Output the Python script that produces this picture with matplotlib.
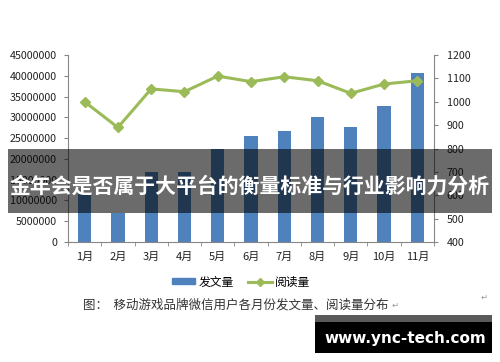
import numpy as np
import matplotlib
matplotlib.use("Agg")
import matplotlib.pyplot as plt
from matplotlib.patches import Rectangle
from matplotlib.lines import Line2D

plt.rcParams['font.family'] = ['Noto Sans CJK SC', 'DejaVu Sans']

months = ["1月", "2月", "3月", "4月", "5月", "6月", "7月", "8月", "9月", "10月", "11月"]
posts = [11500000, 7000000, 16800000, 16800000, 22300000, 25600000, 26800000,
         30000000, 27600000, 32800000, 40600000]
reads = [1000, 890, 1055, 1043, 1110, 1086, 1107, 1090, 1036, 1076, 1090]
left_ticks = list(range(0, 45000001, 5000000))
right_ticks = list(range(400, 1201, 100))

title = "金年会是否属于大平台的衡量标准与行业影响力分析"
caption = "图：  移动游戏品牌微信用户各月份发文量、阅读量分布"
watermark = "www.ync-tech.com"

blue = "#4F81BD"
green = "#9BBB59"
spine = "#868686"

fig = plt.figure(figsize=(5, 3.62), dpi=100)
ax = fig.add_axes([0.136, 0.3315, 0.732, 0.5165])
ax2 = ax.twinx()

x = np.arange(len(months))
ax.bar(x, posts, width=0.4, color=blue, zorder=2)
ax2.plot(x, reads, color=green, lw=2.2, marker="D", ms=5, zorder=3)

ax.set_xlim(-0.5, len(months) - 0.5)
ax.set_ylim(0, 45000000)
ax2.set_ylim(400, 1200)
ax.set_yticks(left_ticks)
ax.set_yticklabels([str(v) for v in left_ticks])
ax2.set_yticks(right_ticks)
ax2.set_yticklabels([str(v) for v in right_ticks])
ax.set_xticks(x)
ax.set_xticklabels(months)
ax.set_xticks(np.arange(-0.5, len(months)), minor=True)

for a in (ax, ax2):
    for s in a.spines.values():
        s.set_color(spine)
        s.set_linewidth(0.8)
    a.spines["top"].set_visible(False)
ax.spines["right"].set_visible(False)
ax2.spines["left"].set_visible(False)
ax2.spines["bottom"].set_visible(False)

ax.tick_params(axis="y", length=3, color=spine, labelsize=7.7, pad=5, labelcolor="#222222")
ax2.tick_params(axis="y", length=3, color=spine, labelsize=7.7, pad=6, labelcolor="#222222")
ax.tick_params(axis="x", which="major", length=0, labelsize=8, pad=7, labelcolor="#222222")
ax.tick_params(axis="x", which="minor", length=3, color=spine)

handles = [Rectangle((0, 0), 1, 1, color=blue),
           Line2D([], [], color=green, lw=2.2, marker="D", ms=4)]
fig.legend(handles, ["发文量", "阅读量"], loc="center", bbox_to_anchor=(0.482, 0.221),
           ncol=2, frameon=False, fontsize=8.5, handlelength=2.0, handleheight=0.45,
           columnspacing=1.2, handletextpad=0.3)

fig.text(0.166, 0.157, caption, fontsize=9, color="#333333", va="center")
fig.text(0.784, 0.157, "↵", fontsize=6, color="#999999", va="center")
fig.text(0.962, 0.18, "↵", fontsize=6, color="#999999", va="center")

# dark banner over the chart
fig.patches.append(Rectangle((0.016, 1 - 213 / 362), 0.968, 64 / 362, transform=fig.transFigure,
                             facecolor="black", alpha=0.58, edgecolor="none", zorder=5))
fig.text(0.5, 1 - 186 / 362, title, fontsize=15, fontweight="bold", color="white",
         ha="center", va="center", zorder=6)

# watermark box, pixel rows 315..353
fig.patches.append(Rectangle((0.63, 1 - 353 / 362), 0.354, 38 / 362, transform=fig.transFigure,
                             facecolor="black", edgecolor="none", zorder=5))
fig.patches.append(Rectangle((0.63, 1 - 322 / 362), 0.354, 7 / 362, transform=fig.transFigure,
                             facecolor="#5a5a5a", edgecolor="none", zorder=5))
fig.text(0.81, 1 - 338 / 362, watermark, fontsize=11, fontweight="bold", color="white",
         family="DejaVu Sans", ha="center", va="center", zorder=6)

fig.savefig("out.png", dpi=100, facecolor="white")
